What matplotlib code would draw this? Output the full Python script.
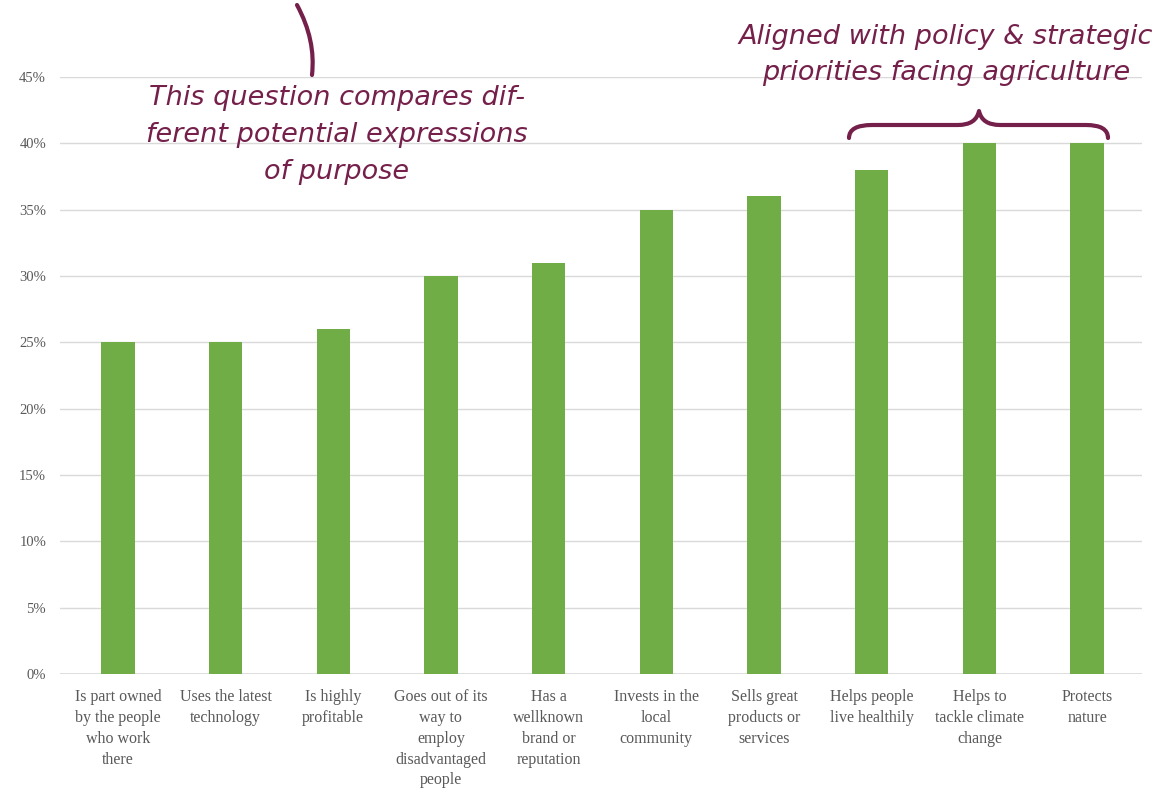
import matplotlib
matplotlib.use("Agg")
import matplotlib.pyplot as plt
from matplotlib.path import Path
from matplotlib.patches import PathPatch
import numpy as np

categories = [
    "Is part owned\nby the people\nwho work\nthere",
    "Uses the latest\ntechnology",
    "Is highly\nprofitable",
    "Goes out of its\nway to\nemploy\ndisadvantaged\npeople",
    "Has a\nwellknown\nbrand or\nreputation",
    "Invests in the\nlocal\ncommunity",
    "Sells great\nproducts or\nservices",
    "Helps people\nlive healthily",
    "Helps to\ntackle climate\nchange",
    "Protects\nnature",
]
values = [0.25, 0.25, 0.26, 0.30, 0.31, 0.35, 0.36, 0.38, 0.40, 0.40]
yticks = [0, 0.05, 0.10, 0.15, 0.20, 0.25, 0.30, 0.35, 0.40, 0.45]
ytick_labels = ["0%", "5%", "10%", "15%", "20%", "25%", "30%", "35%", "40%", "45%"]

W, H = 1164, 790
fig = plt.figure(figsize=(W / 100, H / 100), dpi=100)
ax = fig.add_axes([60 / W, 1 - 674 / H, (1142 - 60) / W, (674 - 77) / H])

x = np.arange(len(categories))
ax.bar(x, values, width=0.31, color="#70AD47", zorder=3)
ax.set_xlim(-0.537, len(categories) - 0.49)
ax.set_ylim(0, 0.45)
ax.set_yticks(yticks)
ax.set_yticklabels(ytick_labels, fontsize=10.5, color="#595959", family="Liberation Serif")
ax.set_xticks(x)
ax.set_xticklabels(categories, fontsize=11.5, color="#595959", family="Liberation Serif",
                   linespacing=1.4, va="top")
ax.tick_params(axis="both", length=0)
ax.tick_params(axis="x", pad=11)
ax.tick_params(axis="y", pad=10)
for s in ax.spines.values():
    s.set_visible(False)
ax.grid(axis="y", color="#d9d9d9", linewidth=1, zorder=0)
ax.set_axisbelow(True)
ax.axhline(0, color="#d9d9d9", linewidth=1.2, zorder=2)

col = "#74204A"

def fp(px, py):
    return (px / W, 1 - py / H)

hand = dict(family="DejaVu Sans", style="italic", color=col, fontsize=19.5,
            ha="center", va="center", linespacing=1.55, transform=fig.transFigure)

fig.text(*fp(337, 135), "This question compares dif-\nferent potential expressions\nof purpose", **hand)
fig.text(*fp(946, 55), "Aligned with policy & strategic\npriorities facing agriculture", **hand)

# brace
verts = [fp(849, 138), fp(849, 125), fp(872, 125), fp(958, 125),
         fp(976, 125), fp(979, 111),
         fp(982, 125), fp(1000, 125), fp(1086, 125),
         fp(1108, 125), fp(1108, 138)]
codes = [Path.MOVETO, Path.CURVE3, Path.CURVE3, Path.LINETO,
         Path.CURVE3, Path.CURVE3,
         Path.CURVE3, Path.CURVE3, Path.LINETO,
         Path.CURVE3, Path.CURVE3]
fig.patches.append(PathPatch(Path(verts, codes), transform=fig.transFigure,
                             fill=False, edgecolor=col, linewidth=3, capstyle="round",
                             joinstyle="round"))

# curve top-left
verts2 = [fp(297, 5), fp(316, 40), fp(312, 75)]
codes2 = [Path.MOVETO, Path.CURVE3, Path.CURVE3]
fig.patches.append(PathPatch(Path(verts2, codes2), transform=fig.transFigure,
                             fill=False, edgecolor=col, linewidth=3, capstyle="round"))

fig.savefig("out.png", dpi=100, facecolor="white")
